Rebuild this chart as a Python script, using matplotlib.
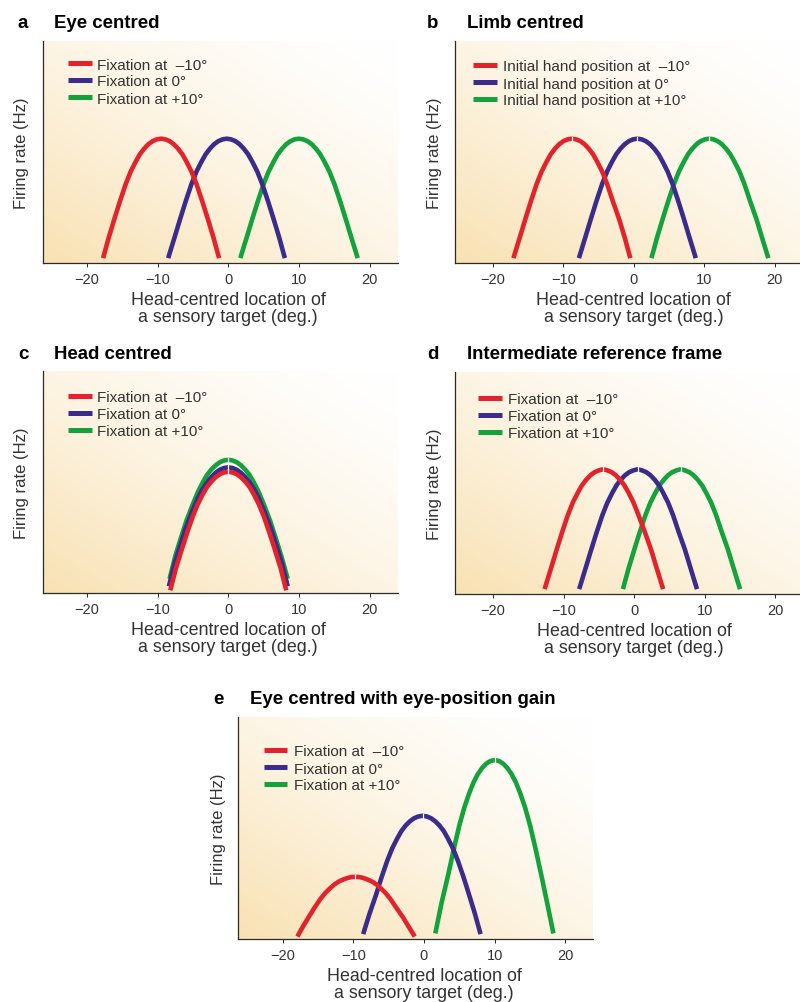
import numpy as np
import matplotlib
matplotlib.use("Agg")
import matplotlib.pyplot as plt
from matplotlib.lines import Line2D

plt.rcParams['font.family'] = ['Liberation Sans', 'DejaVu Sans']

W, H = 800, 1003

# ---------------- data ----------------
colors = ['#e3232c', '#3b2c8b', '#13a23c']
x_ticks = [-20, -10, 0, 10, 20]

fix_labels = ['Fixation at  \u201310\u00b0', 'Fixation at 0\u00b0', 'Fixation at +10\u00b0']
hand_labels = ['Initial hand position at  \u201310\u00b0', 'Initial hand position at 0\u00b0',
               'Initial hand position at +10\u00b0']

# shared heights for panels a, b and d (all curves equal peak height there)
a_y = [0.022, 0.115, 0.199, 0.280, 0.356, 0.412, 0.456, 0.490, 0.515, 0.535, 0.549, 0.557, 0.560,
       0.557, 0.549, 0.535, 0.515, 0.490, 0.456, 0.412, 0.356, 0.280, 0.199, 0.115, 0.022]
b_y = [0.022, 0.115, 0.199, 0.280, 0.356, 0.412, 0.456, 0.490, 0.515, 0.535, 0.549, 0.557, 0.560,
       0.557, 0.549, 0.535, 0.515, 0.490, 0.456, 0.412, 0.356, 0.280, 0.199, 0.115, 0.022]
d_y = [0.022, 0.115, 0.199, 0.280, 0.356, 0.412, 0.456, 0.490, 0.515, 0.535, 0.549, 0.557, 0.562,
       0.557, 0.549, 0.535, 0.515, 0.490, 0.456, 0.412, 0.356, 0.280, 0.199, 0.115, 0.022]

# panel a: eye centred
a_red_x = [-17.7, -16.9, -16.1, -15.3, -14.5, -13.8, -13.1, -12.5, -11.9, -11.3, -10.7, -10.1, -9.5,
           -8.9, -8.3, -7.7, -7.1, -6.5, -5.9, -5.2, -4.5, -3.7, -2.9, -2.1, -1.3]
a_blue_x = [-8.5, -7.6, -6.8, -6.0, -5.2, -4.5, -3.8, -3.2, -2.6, -2.0, -1.4, -0.8, -0.2,
            0.4, 1.0, 1.6, 2.2, 2.8, 3.4, 4.1, 4.8, 5.6, 6.4, 7.2, 8.0]
a_green_x = [1.7, 2.6, 3.4, 4.2, 5.0, 5.7, 6.4, 7.0, 7.6, 8.2, 8.8, 9.4, 10.0,
             10.6, 11.2, 11.8, 12.4, 13.0, 13.6, 14.3, 15.0, 15.8, 16.6, 17.4, 18.3]

# panel b: limb centred
b_red_x = [-17.1, -16.2, -15.4, -14.6, -13.8, -13.1, -12.4, -11.8, -11.2, -10.6, -10.0, -9.4, -8.8,
           -8.2, -7.6, -7.0, -6.4, -5.8, -5.2, -4.5, -3.8, -3.0, -2.1, -1.3, -0.5]
b_blue_x = [-7.8, -6.9, -6.1, -5.3, -4.5, -3.8, -3.1, -2.5, -1.9, -1.3, -0.7, -0.1, 0.5,
            1.1, 1.7, 2.3, 2.9, 3.5, 4.1, 4.8, 5.5, 6.3, 7.1, 7.9, 8.8]
b_green_x = [2.5, 3.3, 4.1, 4.9, 5.7, 6.4, 7.1, 7.7, 8.3, 8.9, 9.5, 10.1, 10.7,
             11.3, 11.9, 12.5, 13.1, 13.7, 14.3, 15.0, 15.7, 16.5, 17.4, 18.2, 19.1]

# panel c: head centred
c_red_x = [-8.2, -7.4, -6.6, -5.8, -5.0, -4.3, -3.6, -3.0, -2.4, -1.8, -1.2, -0.6, 0.0,
           0.6, 1.2, 1.8, 2.4, 3.0, 3.6, 4.3, 5.0, 5.8, 6.6, 7.4, 8.2]
c_blue_x = [-8.4, -7.6, -6.8, -6.0, -5.1, -4.4, -3.7, -3.0, -2.4, -1.8, -1.2, -0.6, 0.0,
            0.6, 1.2, 1.8, 2.4, 3.0, 3.7, 4.4, 5.1, 6.0, 6.8, 7.6, 8.4]
c_green_x = [-8.3, -7.5, -6.7, -5.9, -5.0, -4.3, -3.6, -3.0, -2.4, -1.8, -1.2, -0.6, 0.0,
             0.6, 1.2, 1.8, 2.4, 3.0, 3.6, 4.3, 5.0, 5.9, 6.7, 7.5, 8.4]
c_red_y = [0.012, 0.112, 0.194, 0.273, 0.347, 0.401, 0.445, 0.478, 0.502, 0.521, 0.535, 0.543, 0.546,
           0.543, 0.535, 0.521, 0.502, 0.478, 0.445, 0.401, 0.347, 0.273, 0.194, 0.112, 0.012]
c_blue_y = [0.030, 0.132, 0.214, 0.293, 0.367, 0.421, 0.465, 0.498, 0.522, 0.541, 0.555, 0.563, 0.566,
            0.563, 0.555, 0.541, 0.522, 0.498, 0.465, 0.421, 0.367, 0.293, 0.214, 0.132, 0.030]
c_green_y = [0.064, 0.166, 0.248, 0.327, 0.401, 0.455, 0.499, 0.532, 0.556, 0.575, 0.589, 0.597, 0.600,
             0.597, 0.589, 0.575, 0.556, 0.532, 0.499, 0.455, 0.401, 0.327, 0.248, 0.166, 0.064]

# panel d: intermediate reference frame
d_red_x = [-12.7, -11.8, -11.0, -10.2, -9.4, -8.7, -8.0, -7.4, -6.8, -6.2, -5.6, -5.0, -4.4,
           -3.8, -3.2, -2.6, -2.0, -1.4, -0.8, -0.1, 0.6, 1.5, 2.4, 3.2, 4.1]
d_blue_x = [-7.8, -6.9, -6.1, -5.3, -4.5, -3.8, -3.1, -2.5, -1.9, -1.3, -0.7, -0.1, 0.5,
            1.1, 1.7, 2.3, 2.9, 3.5, 4.1, 4.8, 5.5, 6.3, 7.2, 8.0, 8.9]
d_green_x = [-1.6, -0.8, 0.0, 0.8, 1.6, 2.3, 3.0, 3.6, 4.2, 4.8, 5.4, 6.0, 6.6,
             7.2, 7.8, 8.4, 9.0, 9.6, 10.2, 10.9, 11.6, 12.4, 13.3, 14.1, 15.0]

# panel e: eye centred with eye-position gain
e_red_x = [-17.9, -17.1, -16.3, -15.5, -14.7, -14.0, -13.3, -12.7, -12.1, -11.5, -10.9, -10.3, -9.7,
           -9.1, -8.5, -7.9, -7.3, -6.7, -6.1, -5.4, -4.7, -3.9, -3.0, -2.2, -1.3]
e_blue_x = [-8.6, -7.7, -6.8, -6.0, -5.2, -4.5, -3.8, -3.2, -2.6, -2.0, -1.4, -0.8, -0.2,
            0.4, 1.0, 1.6, 2.2, 2.8, 3.4, 4.1, 4.8, 5.6, 6.4, 7.2, 8.0]
e_green_x = [1.6, 2.5, 3.4, 4.2, 5.0, 5.7, 6.4, 7.0, 7.6, 8.2, 8.8, 9.4, 10.0,
             10.6, 11.2, 11.8, 12.4, 13.0, 13.6, 14.3, 15.0, 15.8, 16.6, 17.4, 18.3]
e_red_y = [0.011, 0.057, 0.099, 0.140, 0.178, 0.206, 0.228, 0.245, 0.258, 0.267, 0.274, 0.279, 0.280,
           0.279, 0.274, 0.267, 0.258, 0.245, 0.228, 0.206, 0.178, 0.140, 0.099, 0.057, 0.011]
e_blue_y = [0.022, 0.114, 0.197, 0.278, 0.352, 0.408, 0.452, 0.486, 0.511, 0.530, 0.544, 0.552, 0.555,
            0.552, 0.544, 0.530, 0.511, 0.486, 0.452, 0.408, 0.352, 0.278, 0.197, 0.114, 0.022]
e_green_y = [0.025, 0.165, 0.286, 0.403, 0.512, 0.592, 0.657, 0.705, 0.742, 0.770, 0.790, 0.802, 0.806,
             0.802, 0.790, 0.770, 0.742, 0.705, 0.657, 0.592, 0.512, 0.403, 0.286, 0.165, 0.025]

panels = [
    dict(letter='a', title='Eye centred', box=(43, 42, 398, 264), xlim=(-26.2, 24.0),
         letter_x=18, title_x=54, title_y=24, ylab_x=22,
         leg=(68, 92, 97, 64), labels=fix_labels, marks=False,
         xs=[a_red_x, a_blue_x, a_green_x], ys=[a_y, a_y, a_y]),
    dict(letter='b', title='Limb centred', box=(455, 42, 800, 264), xlim=(-25.4, 23.6),
         letter_x=427, title_x=467, title_y=24, ylab_x=435,
         leg=(473, 497, 503, 66), labels=hand_labels, marks=True,
         xs=[b_red_x, b_blue_x, b_green_x], ys=[b_y, b_y, b_y]),
    dict(letter='c', title='Head centred', box=(43, 372, 398, 594), xlim=(-26.2, 24.0),
         letter_x=18, title_x=54, title_y=355, ylab_x=22,
         leg=(68, 92, 97, 397), labels=fix_labels, marks=True,
         xs=[c_red_x, c_blue_x, c_green_x], ys=[c_red_y, c_blue_y, c_green_y]),
    dict(letter='d', title='Intermediate reference frame', box=(455, 373, 800, 595), xlim=(-25.4, 23.5),
         letter_x=427, title_x=467, title_y=355, ylab_x=435,
         leg=(478, 502, 508, 399), labels=fix_labels, marks=True,
         xs=[d_red_x, d_blue_x, d_green_x], ys=[d_y, d_y, d_y]),
    dict(letter='e', title='Eye centred with eye-position gain', box=(238, 718, 593, 940), xlim=(-26.3, 23.9),
         letter_x=213, title_x=250, title_y=699, ylab_x=218,
         leg=(264, 287, 294, 751), labels=fix_labels, marks=True,
         xs=[e_red_x, e_blue_x, e_green_x], ys=[e_red_y, e_blue_y, e_green_y]),
]

# ---------------- drawing ----------------
fig = plt.figure(figsize=(W / 100, H / 100), dpi=100)
fig.patch.set_facecolor('white')


def fx(px):
    return px / W


def fy(py):
    return 1 - py / H


text_grey = '#333333'
orange = np.array([249, 225, 178]) / 255.0
gx, gy = np.meshgrid(np.linspace(0, 1, 200), np.linspace(0, 1, 200))
wgt = np.clip(1 - (gx + gy) / 2.0, 0, 1) ** 1.5
grad = np.ones((200, 200, 3)) * (1 - wgt[..., None]) + orange[None, None, :] * wgt[..., None]

for p in panels:
    l, t, r, b = p['box']
    ax = fig.add_axes([fx(l), fy(b), (r - l) / W, (b - t) / H])
    x0, x1 = p['xlim']
    ax.imshow(grad, extent=(x0, x1, 0, 1), origin='lower', aspect='auto',
              interpolation='bilinear', zorder=0)
    ax.set_xlim(x0, x1)
    ax.set_ylim(0, 1)
    for s in ['top', 'right']:
        ax.spines[s].set_visible(False)
    for s in ['left', 'bottom']:
        ax.spines[s].set_color('#2a2a2a')
        ax.spines[s].set_linewidth(0.9)
    ax.set_yticks([])
    ax.set_xticks(x_ticks)
    ax.tick_params(axis='x', direction='out', length=3.2, width=0.7, color='#2a2a2a',
                   labelsize=10.5, labelcolor=text_grey, pad=3.5)

    for i in [2, 1, 0]:
        ax.plot(p['xs'][i], p['ys'][i], color=colors[i], lw=3.3,
                solid_capstyle='butt', solid_joinstyle='round', zorder=3 + (2 - i))
        if p['marks']:
            k = int(np.argmax(p['ys'][i]))
            ax.plot([p['xs'][i][k]], [p['ys'][i][k]], marker='|', ms=4.5, mew=0.9,
                    color='white', zorder=10)

    # legend (manual)
    lx0, lx1, tx, ly = p['leg']
    for i, lab in enumerate(p['labels']):
        yy = ly + 17 * i
        fig.add_artist(Line2D([fx(lx0), fx(lx1)], [fy(yy), fy(yy)], color=colors[i],
                              lw=3.6, solid_capstyle='butt', transform=fig.transFigure))
        fig.text(fx(tx), fy(yy), lab, fontsize=11, color=text_grey, ha='left', va='center_baseline')

    # titles
    fig.text(fx(p['letter_x']), fy(p['title_y']), p['letter'], fontsize=13.5, fontweight='bold',
             color='black', ha='left', va='center')
    fig.text(fx(p['title_x']), fy(p['title_y']), p['title'], fontsize=13.4, fontweight='bold',
             color='black', ha='left', va='center')

    # y label
    fig.text(fx(p['ylab_x']), fy((t + b) / 2), 'Firing rate (Hz)', rotation=90, fontsize=12,
             color=text_grey, ha='center', va='center')

    # x label centred on x = 0
    cx = l + (0 - x0) / (x1 - x0) * (r - l)
    fig.text(fx(cx), fy(b + 41), 'Head-centred location of', fontsize=12.9, color=text_grey,
             ha='center', va='baseline')
    fig.text(fx(cx), fy(b + 58), 'a sensory target (deg.)', fontsize=12.9, color=text_grey,
             ha='center', va='baseline')

fig.savefig('out.png', dpi=100, facecolor='white')
